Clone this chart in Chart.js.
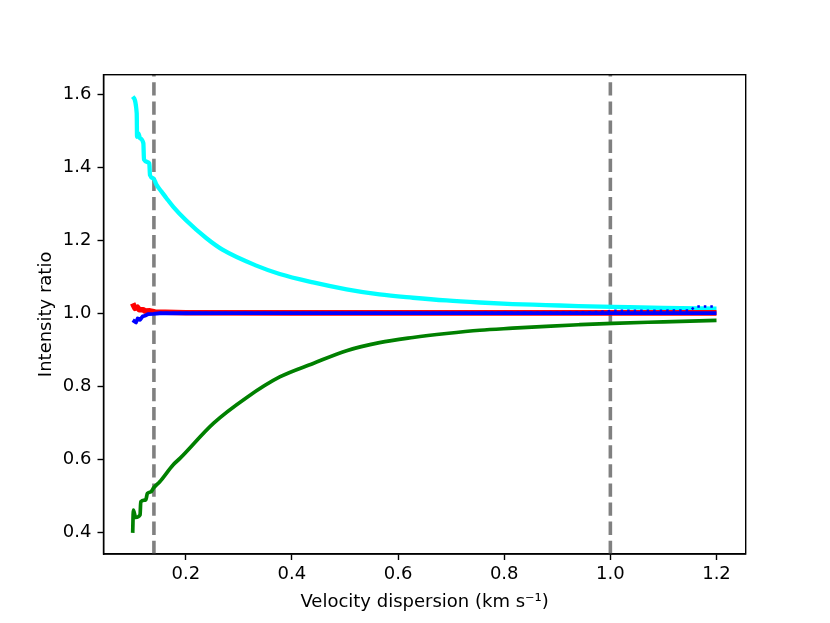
<!DOCTYPE html>
<html><head><meta charset="utf-8">
<script src="https://cdn.jsdelivr.net/npm/chart.js@4"></script>
<style>html,body{margin:0;padding:0;background:#fff}canvas{display:block}</style>
</head><body>
<canvas id="c" width="830" height="623"></canvas>
<script>
// Tick labels and reference lines
const xTicks = [0.2, 0.4, 0.6, 0.8, 1.0, 1.2];
const yTicks = [0.4, 0.6, 0.8, 1.0, 1.2, 1.4, 1.6];
const vLines = [0.14, 1.0];

// Cyan series
const cyanX = [0.1, 0.1076, 0.1082, 0.1107, 0.1138, 0.1201, 0.1213, 0.1313, 0.1326, 0.139, 0.145, 0.1547, 0.164, 0.1765, 0.2, 0.239, 0.27, 0.333, 0.377, 0.44, 0.503, 0.565, 0.628, 0.691, 0.754, 0.816, 0.879, 0.94, 1.004, 1.1, 1.2];
const cyanY = [1.593, 1.547, 1.483, 1.492, 1.479, 1.465, 1.421, 1.410, 1.378, 1.369, 1.351, 1.332, 1.314, 1.291, 1.255, 1.205, 1.173, 1.130, 1.107, 1.084, 1.065, 1.051, 1.042, 1.0345, 1.029, 1.0247, 1.022, 1.019, 1.017, 1.014, 1.012];

// Green series
const greenX = [0.1, 0.1013, 0.1057, 0.1139, 0.1152, 0.1246, 0.1277, 0.134, 0.14, 0.151, 0.176, 0.189, 0.252, 0.315, 0.377, 0.44, 0.503, 0.565, 0.628, 0.691, 0.754, 0.816, 0.879, 0.94, 1.004, 1.1, 1.2];
const greenY = [0.398, 0.46, 0.44, 0.447, 0.483, 0.488, 0.506, 0.51, 0.522, 0.538, 0.584, 0.602, 0.698, 0.769, 0.825, 0.862, 0.897, 0.919, 0.933, 0.944, 0.953, 0.9585, 0.9636, 0.968, 0.972, 0.976, 0.98];

// Red series
const redX = [0.1, 0.1013, 0.1044, 0.1088, 0.1125, 0.12, 0.123, 0.1326, 0.142, 0.2, 0.4, 0.8, 1.2];
const redY = [1.0266, 1.022, 1.013, 1.016, 1.009, 1.009, 1.0055, 1.006, 1.003, 1.001, 1.0005, 1.0005, 1.0005];

// Blue series (solid)
const blueX = [0.1, 0.1063, 0.1094, 0.1138, 0.1188, 0.123, 0.1295, 0.139, 0.151, 0.3, 0.6, 0.9, 1.2];
const blueY = [0.9808, 0.9745, 0.9854, 0.9817, 0.991, 0.9926, 0.9973, 0.998, 0.9995, 1.0, 1.0, 1.0, 1.0];

// Blue series (dotted)
const dotX = [0.15, 0.3, 0.6, 0.9, 0.98, 1.0, 1.15, 1.16, 1.2];
const dotY = [1.0, 1.0, 1.0, 1.001, 1.003, 1.006, 1.007, 1.018, 1.018];

function pts(xs, ys) { return xs.map((x, i) => ({ x: x, y: ys[i] })); }

const FONT = 'DejaVu Sans';

const framePlugin = {
  id: 'frame',
  beforeDatasetsDraw(chart) {
    const { ctx, chartArea: a, scales } = chart;
    ctx.save();
    ctx.beginPath();
    ctx.rect(a.left, a.top, a.right - a.left, a.bottom - a.top);
    ctx.clip();
    ctx.strokeStyle = '#808080';
    ctx.lineWidth = 3.6;
    ctx.setLineDash([13.3, 5.8]);
    vLines.forEach(v => {
      const px = scales.x.getPixelForValue(v);
      ctx.beginPath();
      ctx.moveTo(px, a.bottom);
      ctx.lineTo(px, a.top);
      ctx.stroke();
    });
    ctx.restore();
  },
  afterDraw(chart) {
    const { ctx, chartArea: a } = chart;
    ctx.save();
    ctx.strokeStyle = '#000';
    ctx.lineWidth = 1.4;
    ctx.strokeRect(a.left, a.top, a.right - a.left, a.bottom - a.top);
    ctx.restore();
  }
};

function ds(xs, ys, color, width, order, dash, smooth) {
  const d = {
    data: pts(xs, ys),
    borderColor: color,
    backgroundColor: color,
    borderWidth: width,
    borderDash: dash || [],
    borderCapStyle: 'butt',
    borderJoinStyle: 'round',
    pointRadius: 0,
    tension: 0,
    fill: false,
    order: order
  };
  if (smooth) d.cubicInterpolationMode = 'monotone';
  return d;
}

new Chart(document.getElementById('c'), {
  type: 'line',
  data: {
    datasets: [
      ds(cyanX, cyanY, '#00FFFF', 4.3, 4, null, true),
      ds(greenX, greenY, '#008000', 3.7, 3, null, true),
      ds(redX, redY, '#FF0000', 5.6, 2),
      ds(blueX, blueY, '#0000FF', 3.8, 1),
      ds(dotX, dotY, '#0000FF', 2.5, 0, [2.5, 4])
    ]
  },
  options: {
    responsive: false,
    devicePixelRatio: 1,
    animation: false,
    events: [],
    layout: { padding: { left: 0, top: 74.7, right: 84.3, bottom: 0 } },
    plugins: { legend: { display: false }, tooltip: { enabled: false } },
    scales: {
      x: {
        type: 'linear',
        min: 0.045,
        max: 1.255,
        afterBuildTicks: s => { s.ticks = xTicks.map(v => ({ value: v })); },
        afterFit: s => { s.height = 69; },
        grid: { drawOnChartArea: false, drawTicks: true, tickLength: 6, tickWidth: 1.4, tickColor: '#000' },
        border: { display: true, color: '#000', width: 1.4 },
        ticks: { color: '#000', font: { family: FONT, size: 18 }, padding: 3.7, maxRotation: 0, autoSkip: false, callback: v => Number(v).toFixed(1) },
        title: { display: true, text: 'Velocity dispersion (km s⁻¹)', color: '#000', font: { family: FONT, size: 18 }, padding: { top: 0, bottom: 10 } }
      },
      y: {
        type: 'linear',
        min: 0.34,
        max: 1.653,
        afterBuildTicks: s => { s.ticks = yTicks.map(v => ({ value: v })); },
        afterFit: s => { s.width = 103.5; },
        grid: { drawOnChartArea: false, drawTicks: true, tickLength: 6, tickWidth: 1.4, tickColor: '#000' },
        border: { display: true, color: '#000', width: 1.4 },
        ticks: { color: '#000', font: { family: FONT, size: 18 }, padding: 6, autoSkip: false, callback: v => Number(v).toFixed(1) },
        title: { display: true, text: 'Intensity ratio', color: '#000', font: { family: FONT, size: 18 }, padding: { top: 36, bottom: 0 } }
      }
    }
  },
  plugins: [framePlugin]
});
</script>
</body></html>
